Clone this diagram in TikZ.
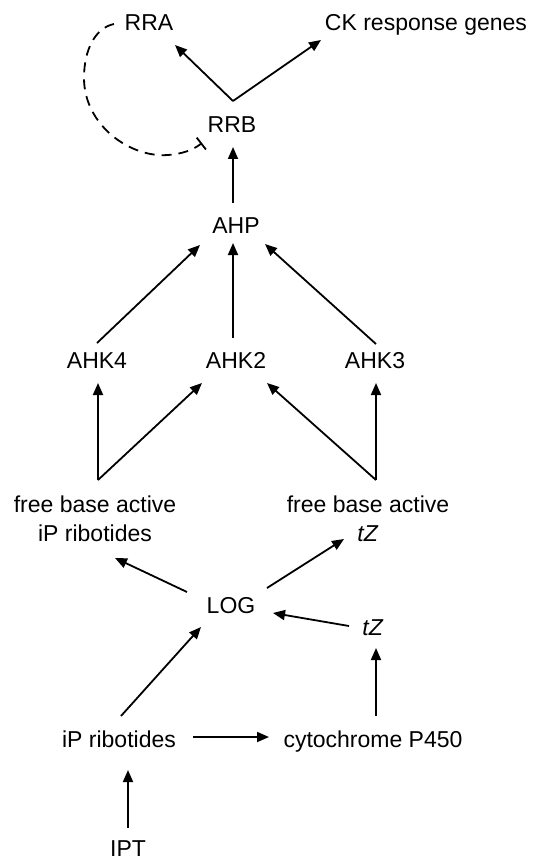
\documentclass[tikz,border=0pt]{standalone}
\usepackage{fontspec}
\setmainfont{Liberation Sans}
\usetikzlibrary{arrows.meta,calc}
\begin{document}
\begin{tikzpicture}[x=1pt,y=-1pt,
  lbl/.style={inner sep=0pt, text height=16pt, text depth=0pt, font=\fontsize{23}{29}\selectfont},
  lbltwo/.style={inner sep=0pt, align=center, font=\fontsize{23}{29}\selectfont},
  arr/.style={line width=1.8pt, -{Triangle[length=12pt,width=10pt]}},
  inhib/.style={line width=1.8pt, dash pattern=on 10pt off 7pt, -{Bar[width=15pt,line width=1.8pt]}}]
\fill[white] (0,0) rectangle (534,861);
\useasboundingbox (0,0) rectangle (534,861);
\node[lbl] (rra) at (149,23) {RRA};
\node[lbl] (ck) at (426,23) {CK response genes};
\node[lbl] (rrb) at (232,125) {RRB};
\node[lbl] (ahp) at (236,225) {AHP};
\node[lbl] (ahk4) at (97,360) {AHK4};
\node[lbl] (ahk2) at (236,360) {AHK2};
\node[lbl] (ahk3) at (375,360) {AHK3};
\node[lbltwo] (fip) at (95,519) {free base active\\iP ribotides};
\node[lbltwo] (ftz) at (368,519) {free base active\\\textit{tZ}};
\node[lbl] (log) at (231,605) {LOG};
\node[lbl] (tz) at (373,627) {\textit{tZ}};
\node[lbl] (ipr) at (119,739) {iP ribotides};
\node[lbl] (cyp) at (373,739) {cytochrome P450};
\node[lbl] (ipt) at (128,848) {IPT};
% RRB fork
\coordinate (fork) at ($(rrb)+(1,-24)$);
\draw[arr] (fork) -- ($(rra)+(26,22)$);
\draw[arr] (fork) -- ($(ck)+(-105,17)$);
% inhibition loop
\draw[inhib] ($(rra)+(-35,1)$) .. controls (95,28) and (84,50) .. (84,78)
  .. controls (84,125) and (130,158) .. (168,155)
  .. controls (182,154) and (193,150) .. ($(rrb)+(-30,18)$);
% AHP -> RRB
\draw[arr] ($(ahp)+(-3,-22)$) -- ($(rrb)+(1,22)$);
% AHKs -> AHP
\draw[arr] ($(ahk4)+(0,-17)$) -- ($(ahp)+(-36,20)$);
\draw[arr] ($(ahk2)+(-3,-22)$) -- ($(ahp)+(-3,18)$);
\draw[arr] ($(ahk3)+(1,-16)$) -- ($(ahp)+(29,19)$);
% free base -> AHKs
\coordinate (fiptop) at ($(fip)+(3,-39)$);
\coordinate (ftztop) at ($(ftz)+(8,-39)$);
\draw[arr] (fiptop) -- ($(ahk4)+(1,23)$);
\draw[arr] (fiptop) -- ($(ahk2)+(-34,23)$);
\draw[arr] (ftztop) -- ($(ahk3)+(1,23)$);
\draw[arr] (ftztop) -- ($(ahk2)+(31,23)$);
% LOG
\draw[arr] ($(log)+(-44,-13)$) -- ($(fip)+(20,39)$);
\draw[arr] ($(log)+(36,-17)$) -- ($(ftz)+(-24,20)$);
\draw[arr] ($(tz)+(-24,-1)$) -- ($(log)+(42,8)$);
\draw[arr] ($(ipr)+(2,-23)$) -- ($(log)+(-30,22)$);
\draw[arr] ($(cyp)+(3,-23)$) -- ($(tz)+(3,21)$);
\draw[arr] ($(ipr)+(74,-2)$) -- ($(cyp)+(-104,-2)$);
\draw[arr] ($(ipt)+(0,-20)$) -- ($(ipr)+(9,31)$);
\end{tikzpicture}
\end{document}
